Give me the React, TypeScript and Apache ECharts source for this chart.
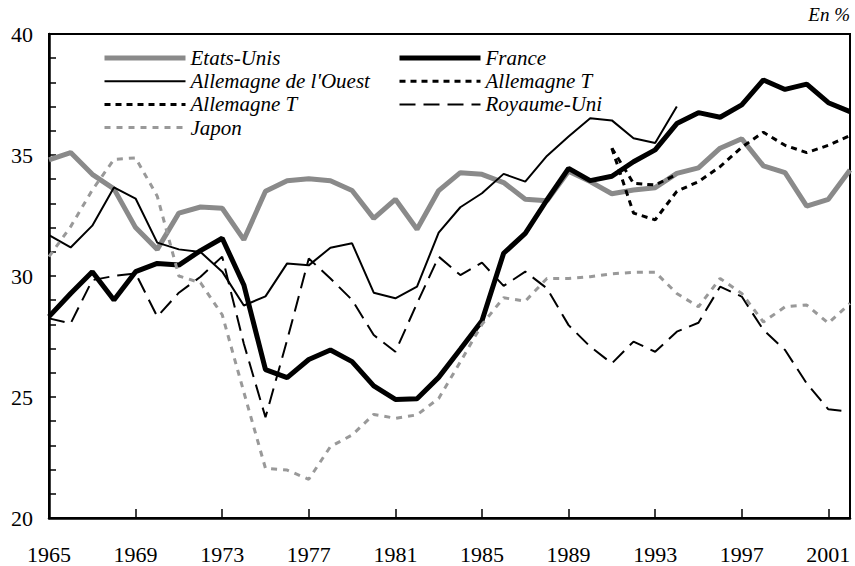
import React, { useEffect, useRef } from "react";
import * as echarts from "echarts";

const years = [
  "1965","1966","1967","1968","1969","1970","1971","1972","1973","1974",
  "1975","1976","1977","1978","1979","1980","1981","1982","1983","1984",
  "1985","1986","1987","1988","1989","1990","1991","1992","1993","1994",
  "1995","1996","1997","1998","1999","2000","2001","2002",
];

const etatsUnis = [
  34.8, 35.1, 34.2, 33.6, 32.0, 31.1, 32.6, 32.85, 32.8, 31.5,
  33.5, 33.94, 34.02, 33.94, 33.53, 32.38, 33.17, 31.93, 33.53, 34.27,
  34.2, 33.86, 33.17, 33.11, 34.33, 33.9, 33.4, 33.55, 33.65, 34.24,
  34.47, 35.28, 35.67, 34.55, 34.27, 32.89, 33.17, 34.38,
];

const france = [
  28.32, 29.28, 30.18, 29.01, 30.18, 30.52, 30.45, 31.05, 31.56, 29.63,
  26.13, 25.8, 26.55, 26.94, 26.46, 25.46, 24.9, 24.93, 25.81, 26.97,
  28.15, 30.94, 31.76, 33.14, 34.45, 33.94, 34.12, 34.72, 35.21, 36.3,
  36.75, 36.56, 37.07, 38.1, 37.71, 37.93, 37.16, 36.79,
];

const allemagneOuest = [
  31.69, 31.18, 32.08, 33.66, 33.2, 31.38, 31.1, 30.99, 30.18, 28.78,
  29.16, 30.52, 30.44, 31.17, 31.35, 29.31, 29.08, 29.56, 31.79, 32.84,
  33.42, 34.22, 33.9, 34.96, 35.76, 36.52, 36.43, 35.69, 35.5, 37.0,
  null, null, null, null, null, null, null, null,
];

const allemagneT1 = [
  null, null, null, null, null, null, null, null, null, null,
  null, null, null, null, null, null, null, null, null, null,
  null, null, null, null, null, null, 35.28, 33.83, 33.76, 34.2,
  null, null, null, null, null, null, null, null,
];

const allemagneT2 = [
  null, null, null, null, null, null, null, null, null, null,
  null, null, null, null, null, null, null, null, null, null,
  null, null, null, null, null, null, 35.28, 32.6, 32.32, 33.5,
  33.9, 34.52, 35.32, 35.94, 35.4, 35.1, 35.4, 35.8,
];

const royaumeUni = [
  28.25, 28.04, 29.83, 30.0, 30.11, 28.32, 29.31, 29.97, 30.8, 27.2,
  24.16, 27.35, 30.72, 29.9, 29.01, 27.56, 26.87, 28.87, 30.8, 30.04,
  30.55, 29.59, 30.18, 29.49, 27.97, 27.08, 26.39, 27.29, 26.87, 27.7,
  28.07, 29.56, 29.15, 27.77, 26.94, 25.56, 24.49, 24.4,
];

const japon = [
  30.8, 32.04, 33.55, 34.82, 34.88, 33.3, 30.0, 29.72, 28.4, 25.2,
  22.05, 21.98, 21.6, 22.95, 23.43, 24.28, 24.12, 24.26, 24.94, 26.45,
  28.0, 29.1, 28.96, 29.9, 29.9, 29.97, 30.09, 30.15, 30.16, 29.28,
  28.73, 29.9, 29.28, 28.1, 28.73, 28.8, 28.05, 28.87,
];

const yTicks = [20, 25, 30, 35, 40];

const FONT = "'Liberation Serif', 'Times New Roman', serif";

export default function App() {
  const ref = useRef<HTMLDivElement>(null);

  useEffect(() => {
    if (!ref.current) return;
    const chart = echarts.init(ref.current, undefined, { renderer: "svg" });

    const legendText = {
      fontFamily: FONT,
      fontStyle: "italic" as const,
      fontSize: 21,
      color: "#000",
      lineHeight: 22,
    };

    const legendBase = {
      orient: "vertical" as const,
      top: 47,
      itemWidth: 81,
      itemHeight: 14,
      itemGap: 1.2,
      padding: 0,
      selectedMode: false,
      textStyle: legendText,
      itemStyle: { opacity: 0, borderWidth: 0 },
      lineStyle: { width: "inherit" },
    };

    chart.setOption({
      animation: false,
      backgroundColor: "#fff",
      grid: {
        left: 49,
        right: 5,
        top: 34,
        bottom: 48,
        show: true,
        borderColor: "#000",
        borderWidth: 2,
        backgroundColor: "transparent",
      },
      legend: [
        {
          ...legendBase,
          left: 102,
          data: ["Etats-Unis", "Allemagne de l'Ouest", "Allemagne T", "Japon"],
        },
        {
          ...legendBase,
          left: 397,
          data: ["France", "Allemagne T", "Royaume-Uni"],
        },
      ],
      graphic: [
        {
          type: "text",
          right: 5,
          top: 5,
          style: {
            text: "En %",
            fontFamily: FONT,
            fontStyle: "italic",
            fontSize: 19,
            fill: "#000",
          },
        },
      ],
      xAxis: {
        type: "category",
        data: years,
        boundaryGap: false,
        axisLine: { lineStyle: { color: "#000", width: 2.5 } },
        axisTick: { show: true, inside: true, interval: 3, length: 9, lineStyle: { color: "#000", width: 1.5 } },
        axisLabel: {
          interval: 3,
          margin: 25,
          fontFamily: FONT,
          fontSize: 22,
          color: "#000",
        },
        splitLine: { show: false },
      },
      yAxis: {
        type: "value",
        min: yTicks[0],
        max: yTicks[yTicks.length - 1],
        interval: 5,
        axisLine: { show: true, lineStyle: { color: "#000", width: 2.5 } },
        axisTick: { show: true, inside: true, length: 7, lineStyle: { color: "#000", width: 1.5 } },
        minorTick: { show: true, splitNumber: 5, length: 7, lineStyle: { color: "#000", width: 1.5 } },
        axisLabel: {
          margin: 16,
          fontFamily: FONT,
          fontSize: 22,
          color: "#000",
        },
        splitLine: { show: false },
      },
      series: [
        {
          name: "Etats-Unis",
          type: "line",
          data: etatsUnis,
          symbol: "none",
          lineStyle: { color: "#8a8a8a", width: 5 },
          itemStyle: { color: "#8a8a8a" },
        },
        {
          name: "France",
          type: "line",
          data: france,
          symbol: "none",
          lineStyle: { color: "#000", width: 5 },
          itemStyle: { color: "#000" },
        },
        {
          name: "Allemagne de l'Ouest",
          type: "line",
          data: allemagneOuest,
          symbol: "none",
          lineStyle: { color: "#000", width: 2 },
          itemStyle: { color: "#000" },
        },
        {
          name: "Allemagne T",
          type: "line",
          data: allemagneT1,
          symbol: "none",
          lineStyle: { color: "#000", width: 3, type: [6, 5] },
          itemStyle: { color: "#000" },
        },
        {
          name: "Allemagne T",
          type: "line",
          data: allemagneT2,
          symbol: "none",
          lineStyle: { color: "#000", width: 3, type: [6, 5] },
          itemStyle: { color: "#000" },
        },
        {
          name: "Royaume-Uni",
          type: "line",
          data: royaumeUni,
          symbol: "none",
          lineStyle: { color: "#000", width: 2, type: [16, 8] },
          itemStyle: { color: "#000" },
        },
        {
          name: "Japon",
          type: "line",
          data: japon,
          symbol: "none",
          lineStyle: { color: "#999", width: 3, type: [6, 6] },
          itemStyle: { color: "#999" },
        },
      ],
    });

    return () => chart.dispose();
  }, []);

  return <div ref={ref} style={{ width: 855, height: 566, position: "fixed", left: 0, top: 0 }} />;
}
